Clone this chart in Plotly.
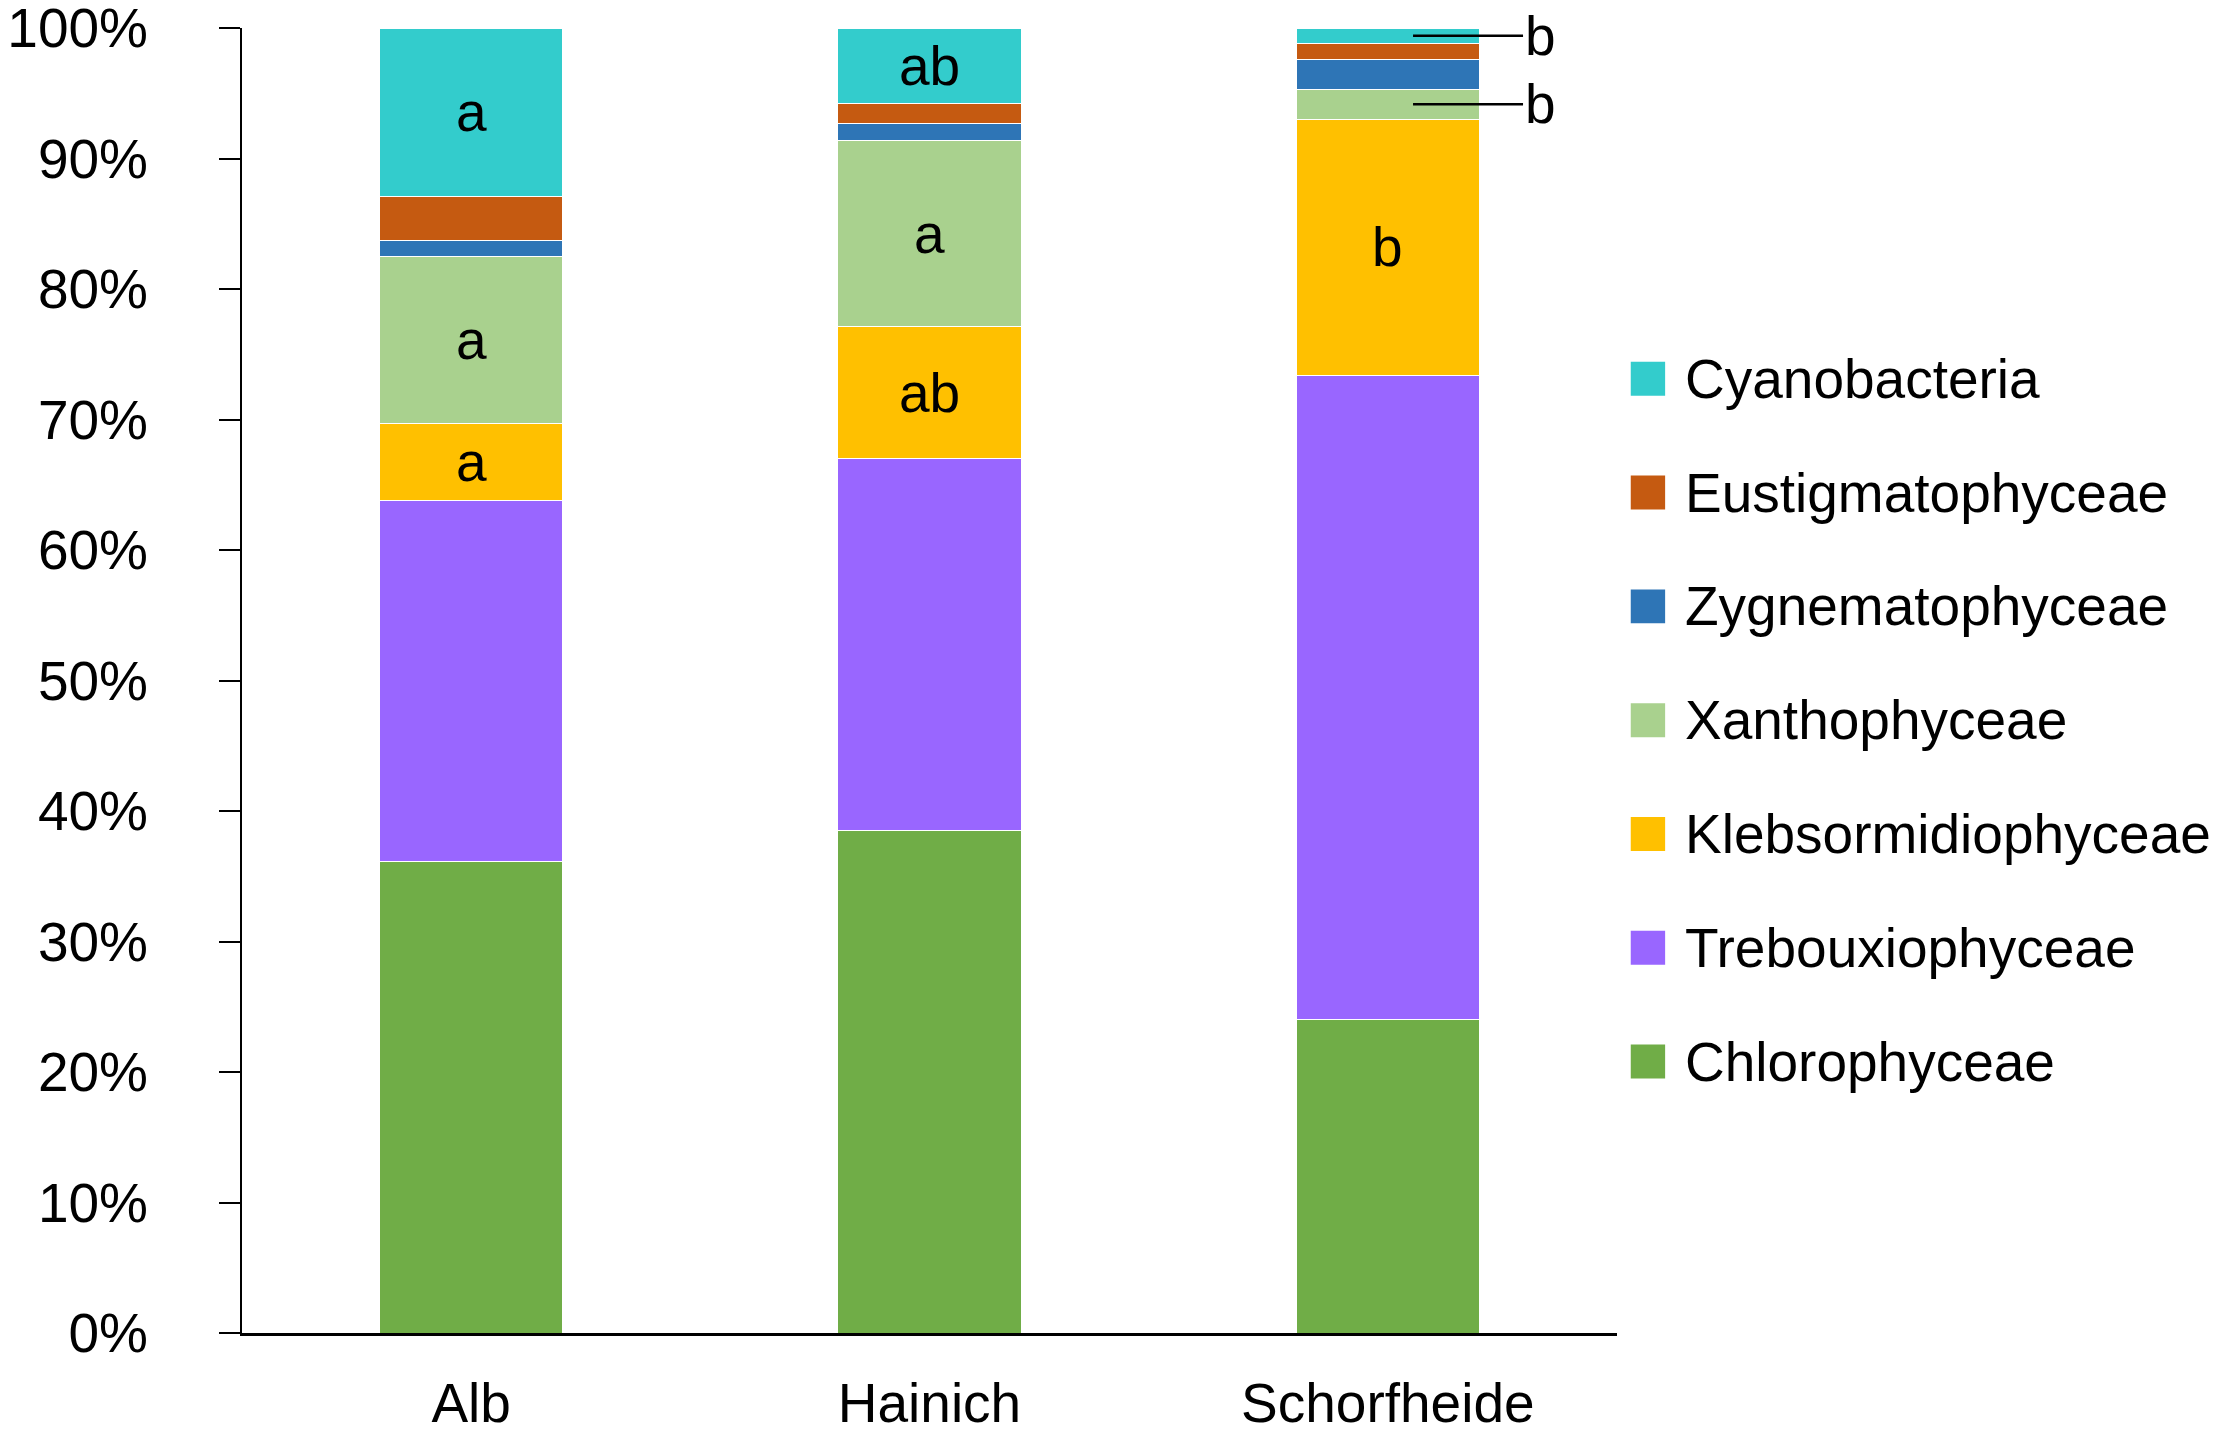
import plotly.graph_objects as go

sites = ["Alb", "Hainich", "Schorfheide"]

# stacked from bottom to top, % of reads
chlorophyceae = [36.1, 38.5, 24.0]
trebouxiophyceae = [27.7, 28.5, 49.4]
klebsormidiophyceae = [5.9, 10.1, 19.6]
xanthophyceae = [12.8, 14.3, 2.3]
zygnematophyceae = [1.2, 1.3, 2.3]
eustigmatophyceae = [3.4, 1.5, 1.2]
cyanobacteria = [12.9, 5.8, 1.2]

groups = ["Chlorophyceae", "Trebouxiophyceae", "Klebsormidiophyceae", "Xanthophyceae",
          "Zygnematophyceae", "Eustigmatophyceae", "Cyanobacteria"]
values = [chlorophyceae, trebouxiophyceae, klebsormidiophyceae, xanthophyceae,
          zygnematophyceae, eustigmatophyceae, cyanobacteria]
colors = ["#70AD47", "#9966FF", "#FFC000", "#A9D18E", "#2E75B6", "#C55A11", "#33CCCC"]

y_ticks = [0, 10, 20, 30, 40, 50, 60, 70, 80, 90, 100]
y_labels = [f"{t}%" for t in y_ticks]

# significance letters
letters = {
    "Klebsormidiophyceae": ["a", "ab", "b"],
    "Xanthophyceae": ["a", "a", "b"],
    "Cyanobacteria": ["a", "ab", "b"],
}

FONT = "Liberation Sans, Arial, sans-serif"
fs = 55

fig = go.Figure()
for name, vals, c in zip(groups, values, colors):
    fig.add_trace(go.Bar(x=sites, y=vals, name=name, marker_color=c,
                         marker_line=dict(color="white", width=1),
                         width=0.4, showlegend=False))

# letters at segment centres, callouts for thin segments
annotations = []
shapes = []
base = [0.0] * len(sites)
for name, vals in zip(groups, values):
    for i, v in enumerate(vals):
        mid = base[i] + v / 2
        if name in letters:
            if v >= 4:
                annotations.append(dict(x=sites[i], y=mid, text=letters[name][i], showarrow=False,
                                        font=dict(size=fs, color="black", family=FONT)))
            else:
                shapes.append(dict(type="line", xref="x", yref="y", x0=i + 0.055, x1=i + 0.295,
                                   y0=mid, y1=mid, line=dict(color="black", width=2.5)))
                annotations.append(dict(x=i + 0.295, y=mid, text=letters[name][i], showarrow=False,
                                        xanchor="left", font=dict(size=fs, color="black", family=FONT)))
        base[i] += v

# legend drawn by hand so the swatches can be large
for k, (name, c) in enumerate(zip(groups, colors)):
    yy = 0.208 + k * 0.0872
    shapes.append(dict(type="rect", xref="paper", yref="paper", x0=1.010, x1=1.035,
                       y0=yy - 0.013, y1=yy + 0.013, fillcolor=c, line=dict(width=0)))
    annotations.append(dict(xref="paper", yref="paper", x=1.048, y=yy, text=name, showarrow=False,
                            xanchor="left", yanchor="middle",
                            font=dict(size=fs, color="black", family=FONT)))

# page body adds 8px, so the figure is 8px smaller
fig.update_layout(
    barmode="stack",
    width=2220, height=1428,
    margin=dict(l=234, r=611, t=20, b=103),
    paper_bgcolor="white", plot_bgcolor="white",
    font=dict(family=FONT, size=fs, color="black"),
    annotations=annotations, shapes=shapes,
    xaxis=dict(range=[-0.5, 2.5], showline=True, linecolor="black", linewidth=3,
               ticks="", showgrid=False, ticklabelstandoff=20, automargin=False,
               tickfont=dict(size=fs)),
    yaxis=dict(range=[0, 100], tickmode="array", tickvals=y_ticks, ticktext=y_labels,
               showline=True, linecolor="black", automargin=False, ticklabeloverflow="allow",
               linewidth=2, ticks="outside", ticklen=21, tickwidth=2, tickcolor="black",
               showgrid=False, zeroline=False, ticklabelstandoff=60,
               tickfont=dict(size=fs)),
)

fig.write_html("out.html")
